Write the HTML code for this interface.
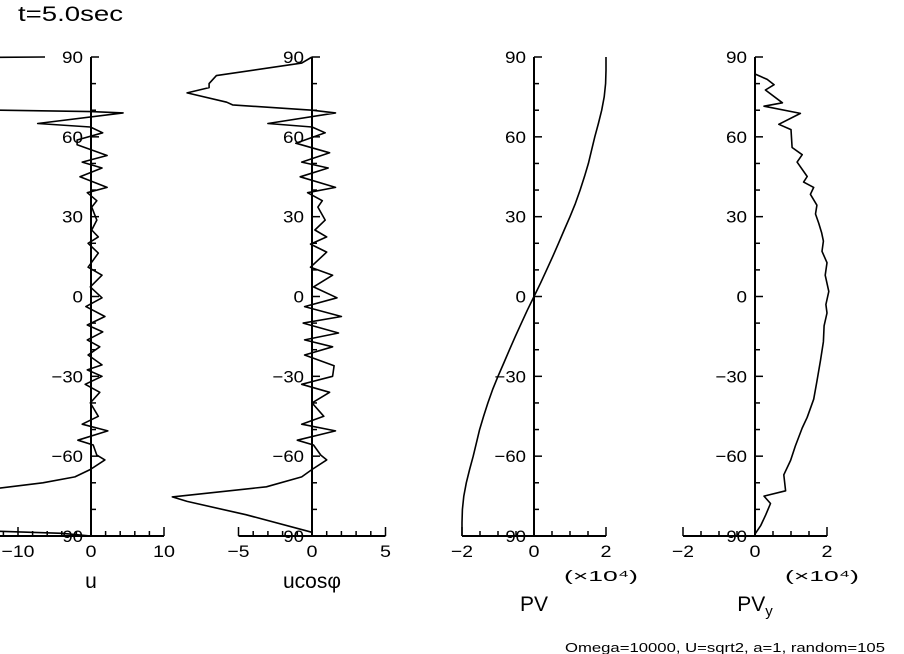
<!DOCTYPE html>
<html><head><meta charset="utf-8"><style>
html,body{margin:0;padding:0;background:#fff;}
svg{display:block;font-family:"Liberation Sans",sans-serif;}
</style></head><body>
<svg id="c" width="904" height="654" viewBox="0 0 904 654">
<text x="18" y="21" font-size="21" textLength="105" lengthAdjust="spacingAndGlyphs">t=5.0sec</text>
<text x="565" y="652" font-size="13" textLength="320" lengthAdjust="spacingAndGlyphs">Omega=10000, U=sqrt2, a=1, random=105</text>
</svg>
<script>
// Data
const latU=[90,89.5,70.5,70,69.5,69,65,63.7,61.5,58.8,57,53,50.5,48.3,45,41,39,36,33.6,28.7,25,22.4,20,16.3,11,8,3.6,-0.5,-3.8,-7.5,-10.7,-13.3,-16.3,-18.9,-22,-25.7,-27.6,-30,-33,-36,-40,-45,-48,-50.5,-54,-55.8,-59.6,-61.4,-65,-67.8,-70,-72,-74,-88,-89,-90];
const valU=[-6.3,-30,-30,-12.5,0,4.4,-7.3,-0.1,1.6,-1.9,-1.9,2.2,-1.2,1.5,-1.5,2.2,-0.5,0.8,0.1,0.8,0.1,1.0,-0.4,1.0,-0.4,1.5,-0.1,1.5,-0.7,1.9,-0.5,1.6,-0.5,1.2,-0.4,1.5,-0.5,1.5,-0.8,1.2,-0.1,1.0,-1.2,2.3,-1.8,0.3,0.8,1.9,-0.1,-2.2,-6.6,-12.5,-30,-15,-4,0];
const latUc=[90,87.7,83,80,78.5,76.5,73,72,70,69,65,63.7,61.5,57.6,54,50.5,48.3,45,41,39,36,33.6,28.7,25,22.4,19.7,16.7,11,8,3.6,-0.5,-3.8,-7.5,-10,-13.7,-16.3,-18.9,-22,-26,-30,-33,-36,-40,-45,-48,-50.5,-54,-55.8,-59.6,-61.4,-65,-67.8,-71.5,-75.3,-77,-82,-88.6,-90];
const valUc=[0,-0.7,-6.5,-7,-7,-8.5,-5.8,-5.4,0,1.6,-3,0,0.9,-1.1,1.2,-0.7,1.1,-0.8,1.6,-0.3,0.7,0.4,0.9,0.2,1.0,-0.1,1.0,-0.1,1.4,0.1,1.7,-0.5,2.0,-0.6,1.8,-0.5,1.4,-0.5,1.5,1.4,-0.7,1.2,0,0.8,-0.7,1.6,-1,0.1,0.6,1.0,0,-0.7,-3.1,-9.5,-8.5,-4.5,0,0];
const latPV=[90,85,80,75,70,65,60,55,50,45,40,35,30,25,20,15,10,5,0,-5,-10,-15,-20,-25,-30,-35,-40,-45,-50,-55,-60,-65,-70,-75,-80,-85,-90];
const valPV=[2.0,2.0,1.99,1.95,1.88,1.79,1.69,1.6,1.51,1.4,1.28,1.15,1.0,0.84,0.68,0.52,0.35,0.18,0,-0.18,-0.35,-0.52,-0.68,-0.84,-1.0,-1.15,-1.28,-1.4,-1.51,-1.6,-1.69,-1.79,-1.88,-1.95,-1.99,-2.0,-2.0];
const latPVy=[90,89,83.6,81.6,79.6,77.6,72.8,71.5,68.8,64.7,62.7,56,53.3,50.5,45.1,43,41,38.4,34.3,31,27.6,24,20.8,17,12.7,8,1.9,-3,-6.2,-11,-17,-24,-31.9,-38.6,-45.4,-49.4,-56.2,-61.6,-67,-73,-75,-77.8,-82,-86,-89.3,-90];
const valPVy=[0,0,0,0.34,0.53,0.29,0.76,0.25,1.26,0.66,1.0,1.03,1.31,1.17,1.45,1.35,1.63,1.54,1.72,1.68,1.77,1.85,1.9,1.86,2.0,1.95,2.05,1.97,2.0,1.92,1.9,1.82,1.72,1.63,1.45,1.31,1.12,0.99,0.8,0.85,0.25,0.43,0.3,0.16,0,0];
const yTicks=[90,60,30,0,-30,-60,-90];
const panels=[
 {name:'u',x0:91,sc:7.3,xmin:-20,xmax:10,major:[-10,0,10],minorStep:2,lat:latU,val:valU,title:'u',exp:false},
 {name:'ucos',x0:312,sc:14.7,xmin:-5,xmax:5,major:[-5,0,5],minorStep:1,lat:latUc,val:valUc,title:'ucos\u03C6',exp:false},
 {name:'pv',x0:534,sc:36,xmin:-2,xmax:2,major:[-2,0,2],minorStep:0.5,lat:latPV,val:valPV,title:'PV',exp:true},
 {name:'pvy',x0:755,sc:36,xmin:-2,xmax:2,major:[-2,0,2],minorStep:0.5,lat:latPVy,val:valPVy,title:'PV',exp:true,sub:'y'}
];
const Y0=296.5, YS=479/180;
function yS(l){return Y0-l*YS;}
const svg=document.getElementById('c');
const NS='http://www.w3.org/2000/svg';
function mk(t,a,p){const e=document.createElementNS(NS,t);for(const k in a)e.setAttribute(k,a[k]);(p||svg).appendChild(e);return e;}
function lab(t){return t<0?'\u2212'+(-t):String(t);}
panels.forEach(p=>{
 const xS=v=>p.x0+v*p.sc;
 const g=mk('g',{});
 
 
 const st={stroke:'#000','stroke-width':2,fill:'none'};
 const ya=mk('line',Object.assign({x1:p.x0,y1:yS(90),x2:p.x0,y2:yS(-90)},st),g);
 
 
 const xa=mk('line',Object.assign({x1:xS(p.xmin),y1:yS(-90),x2:xS(p.xmax),y2:yS(-90)},st),g);
 
 
 for(let l=90;l>-90;l-=10){const maj=(l%30===0);mk('line',{x1:p.x0,y1:yS(l),x2:p.x0+(maj?8:5),y2:yS(l),stroke:'#000','stroke-width':1.5},g);}
 for(let v=p.xmin;v<=p.xmax+1e-9;v+=p.minorStep){const isM=p.major.some(m=>Math.abs(m-v)<1e-9)||Math.abs(v-p.xmin)<1e-9||Math.abs(v-p.xmax)<1e-9;mk('line',{x1:xS(v),y1:yS(-90),x2:xS(v),y2:yS(-90)-(isM?9:5),stroke:'#000','stroke-width':1.5},g);}
 yTicks.forEach(t=>{const s=lab(t);const e=mk('text',{x:p.x0-8,y:yS(t)+6,'font-size':17,'text-anchor':'end',textLength:s.length*10.5,lengthAdjust:'spacingAndGlyphs'},g);e.textContent=s;
  
  });
 p.major.forEach(t=>{const s=lab(t);const e=mk('text',{x:xS(t),y:557,'font-size':17,'text-anchor':'middle',textLength:s.length*11,lengthAdjust:'spacingAndGlyphs'},g);e.textContent=s;
  
  });
 const ty=p.exp?611:588;
 const tt=mk('text',{x:p.x0,y:ty,'font-size':21,'text-anchor':'middle'},g);
 tt.textContent=p.title;
 if(p.sub){const s=mk('tspan',{'font-size':15,dy:5},tt);s.textContent=p.sub;}
 
 
 if(p.exp){const e=mk('text',{x:xS(2)-42,y:581,'font-size':15,textLength:74,lengthAdjust:'spacingAndGlyphs'},g);e.textContent='(\u00D710\u2074)';
  
  }
 let d='';p.lat.forEach((l,i)=>{d+=(i?'L':'M')+xS(p.val[i]).toFixed(1)+','+yS(l).toFixed(1);});
 const c=mk('path',{d:d,stroke:'#000','stroke-width':1.6,fill:'none','stroke-linejoin':'round'},g);
 
 
});
</script>
</body></html>
